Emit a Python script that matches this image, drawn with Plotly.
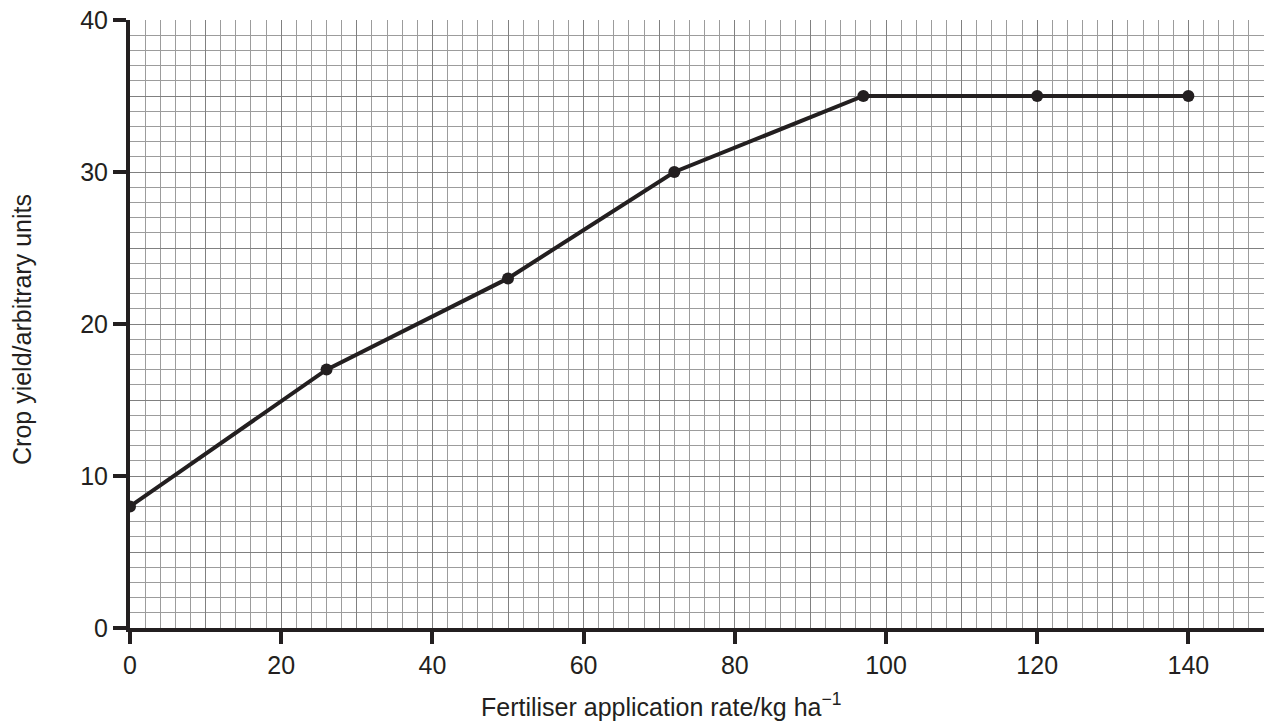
import plotly.graph_objects as go

rate = [0, 26, 50, 72, 97, 120, 140]
yield_ = [8, 17, 23, 30, 35, 35, 35]
x_ticks = [0, 20, 40, 60, 80, 100, 120, 140]
y_ticks = [0, 10, 20, 30, 40]

INK = "#231f20"
FONT = "Liberation Sans, Arial, sans-serif"

fig = go.Figure()
fig.add_trace(go.Scatter(
    x=rate, y=yield_, mode="lines+markers",
    line=dict(color=INK, width=4),
    marker=dict(color=INK, size=12),
    hoverinfo="x+y", showlegend=False,
))
# invisible trace to hold the tick/label axes
fig.add_trace(go.Scatter(x=[0], y=[0], xaxis="x2", yaxis="y2", mode="markers",
                         marker=dict(opacity=0), hoverinfo="skip", showlegend=False))

fig.update_layout(
    width=1264, height=726, autosize=False,
    margin=dict(l=130, r=0, t=20, b=98, autoexpand=False),
    paper_bgcolor="white", plot_bgcolor="white",
    font=dict(family=FONT, color=INK, size=25),
    xaxis=dict(range=[0, 150], dtick=10, tick0=0, showgrid=True,
               gridcolor="#808080", gridwidth=1.4,
               minor=dict(dtick=2, tick0=0, showgrid=True, gridcolor="#9c9c9c", gridwidth=1),
               showticklabels=False, ticks="", zeroline=False, showline=False,
               fixedrange=True),
    yaxis=dict(range=[0, 40], dtick=5, tick0=0, showgrid=True,
               gridcolor="#808080", gridwidth=1.4,
               minor=dict(dtick=1, tick0=0, showgrid=True, gridcolor="#9c9c9c", gridwidth=1),
               showticklabels=False, ticks="", zeroline=False, showline=False,
               fixedrange=True),
    xaxis2=dict(overlaying="x", anchor="y2", side="bottom", range=[0, 150],
                tickmode="array", tickvals=x_ticks, ticktext=[str(v) for v in x_ticks],
                ticks="outside", ticklen=12, tickwidth=4, tickcolor=INK,
                showline=True, linewidth=4, linecolor=INK, showgrid=False, zeroline=False,
                tickfont=dict(size=25, family=FONT, color=INK), fixedrange=True),
    yaxis2=dict(overlaying="y", anchor="x2", side="left", range=[0, 40],
                tickmode="array", tickvals=y_ticks, ticktext=[str(v) for v in y_ticks],
                ticks="outside", ticklen=13, tickwidth=4, tickcolor=INK,
                showline=True, linewidth=4, linecolor=INK, showgrid=False, zeroline=False,
                tickfont=dict(size=25, family=FONT, color=INK), fixedrange=True),
    annotations=[
        dict(text="Fertiliser application rate/kg ha<sup>\u22121</sup>",
             xref="paper", yref="paper", x=(661 - 130) / 1134, y=(628 - 705) / 608,
             showarrow=False, xanchor="center", yanchor="middle",
             font=dict(size=25, family=FONT, color=INK)),
        dict(text="Crop yield/arbitrary units", xref="paper", yref="paper",
             x=(22 - 130) / 1134, y=(628 - 330) / 608, textangle=-90, showarrow=False,
             xanchor="center", yanchor="middle", font=dict(size=25, family=FONT, color=INK)),
    ],
)

fig.write_html(
    "out.html",
    config={"responsive": False, "displayModeBar": False},
    post_script="document.body.style.margin='0';document.body.style.overflow='hidden';",
)
